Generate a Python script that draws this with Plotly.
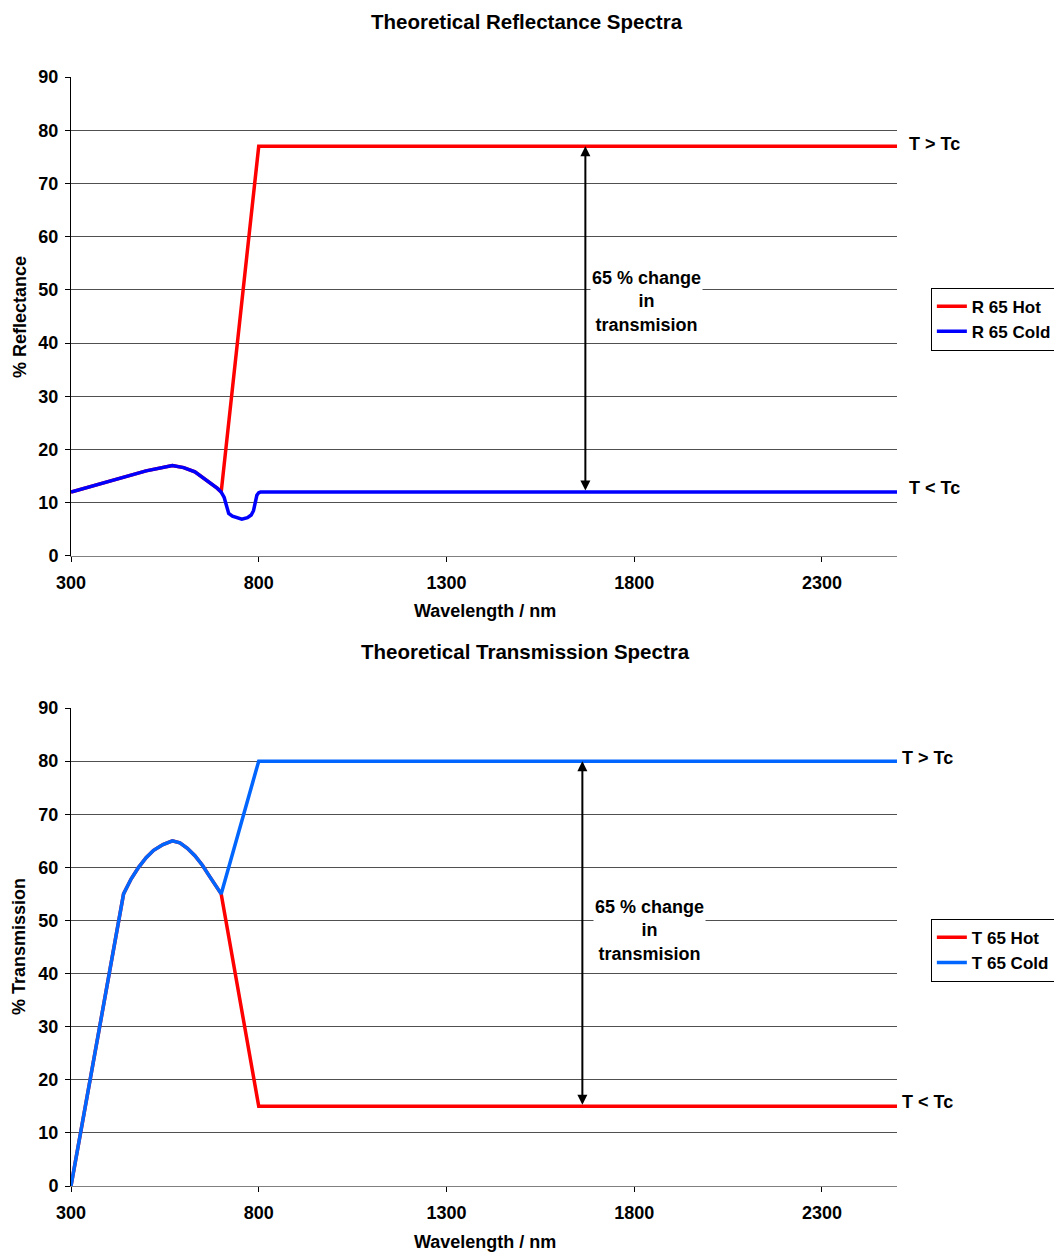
import plotly.graph_objects as go
from plotly.subplots import make_subplots

# Wavelength (nm) / reflectance (%) data
r_hot_x = [300, 350, 400, 450, 500, 570, 600, 630, 650, 670, 690, 700, 800, 2500]
r_hot_y = [12, 13, 14, 15, 16, 17, 16.6, 15.8, 14.8, 13.8, 12.7, 12, 77, 77]
r_cold_x = [300, 350, 400, 450, 500, 570, 600, 630, 650, 670, 690, 700, 708, 714, 720,
            730, 740, 755, 770, 780, 786, 790, 795, 800, 805, 2500]
r_cold_y = [12, 13, 14, 15, 16, 17, 16.6, 15.8, 14.8, 13.8, 12.7, 12, 11, 9.5, 8,
            7.5, 7.2, 6.9, 7.2, 7.7, 8.5, 10, 11.4, 11.9, 12, 12]

# Wavelength (nm) / transmission (%) data
t_hot_x = [300, 440, 460, 480, 500, 520, 545, 570, 590, 610, 630, 650, 670, 685, 700, 800, 2500]
t_hot_y = [0, 55, 57.8, 60, 61.8, 63.2, 64.3, 65, 64.6, 63.6, 62.2, 60.4, 58.2, 56.7, 55, 15, 15]
t_cold_x = [300, 440, 460, 480, 500, 520, 545, 570, 590, 610, 630, 650, 670, 685, 700, 800, 2500]
t_cold_y = [0, 55, 57.8, 60, 61.8, 63.2, 64.3, 65, 64.6, 63.6, 62.2, 60.4, 58.2, 56.7, 55, 80, 80]

x_ticks = [300, 800, 1300, 1800, 2300]
y_ticks = [0, 10, 20, 30, 40, 50, 60, 70, 80, 90]

FONT = "Arial, Liberation Sans, sans-serif"
RED = "#FF0000"
BLUE = "#0000FF"
LIGHT_BLUE = "#0066FF"
TXT = 18

fig = make_subplots(rows=2, cols=1)

fig.add_trace(go.Scatter(x=r_hot_x, y=r_hot_y, mode="lines", name="R 65 Hot",
                         line=dict(color=RED, width=3.5), legend="legend"), row=1, col=1)
fig.add_trace(go.Scatter(x=r_cold_x, y=r_cold_y, mode="lines", name="R 65 Cold",
                         line=dict(color=BLUE, width=3.5), legend="legend"), row=1, col=1)
fig.add_trace(go.Scatter(x=t_hot_x, y=t_hot_y, mode="lines", name="T 65 Hot",
                         line=dict(color=RED, width=3.5), legend="legend2"), row=2, col=1)
fig.add_trace(go.Scatter(x=t_cold_x, y=t_cold_y, mode="lines", name="T 65 Cold",
                         line=dict(color=LIGHT_BLUE, width=3.5), legend="legend2"), row=2, col=1)

axis_common = dict(
    range=[300, 2500], tickvals=x_ticks, ticks="outside", ticklen=5,
    tickcolor="#000", showline=True, linecolor="#808080", linewidth=1,
    showgrid=False, zeroline=False, automargin=False, ticklabelstandoff=5,
    tickfont=dict(family=FONT, size=TXT, color="#000", weight="bold"),
)
yaxis_common = dict(
    range=[0, 90], tickvals=y_ticks, ticks="outside", ticklen=5,
    tickcolor="#000", showline=True, linecolor="#000", linewidth=1,
    showgrid=True, gridcolor="#505050", gridwidth=1, zeroline=False, automargin=False,
    ticklabelstandoff=3,
    tickfont=dict(family=FONT, size=TXT, color="#000", weight="bold"),
)

legend_font = dict(family=FONT, size=17, color="#000", weight="bold")

fig.update_layout(
    width=1054, height=1253,
    margin=dict(l=71, r=157, t=77, b=67, autoexpand=False),
    paper_bgcolor="white", plot_bgcolor="white",
    font=dict(family=FONT, color="#000", weight="bold"),
    xaxis=dict(domain=[0, 1], anchor="y", **axis_common),
    yaxis=dict(domain=[0.5681, 1], anchor="x", **yaxis_common),
    xaxis2=dict(domain=[0, 1], anchor="y2", **axis_common),
    yaxis2=dict(domain=[0, 0.4310], anchor="x2", **yaxis_common),
    legend=dict(x=1.041, y=0.81, xanchor="left", yanchor="top",
                bordercolor="#000", borderwidth=1, bgcolor="white",
                font=legend_font, itemwidth=30, tracegroupgap=0),
    legend2=dict(x=1.041, y=0.241, xanchor="left", yanchor="top",
                 bordercolor="#000", borderwidth=1, bgcolor="white",
                 font=legend_font, itemwidth=30, tracegroupgap=0),
    showlegend=True,
)


def label(text, x, y, xref="paper", yref="paper", size=TXT, **kw):
    d = dict(text=text, x=x, y=y, xref=xref, yref=yref, showarrow=False,
             xanchor=kw.pop("xanchor", "center"), yanchor=kw.pop("yanchor", "middle"),
             font=dict(size=size))
    d.update(kw)
    return d


ann = []
# Titles
ann.append(label("Theoretical Reflectance Spectra", 0.552, 1.0496, size=20.5))
ann.append(label("Theoretical Transmission Spectra", 0.55, 0.4824, size=20.5))
# Axis titles
ann.append(label("Wavelength / nm", 0.501, 0.5185))
ann.append(label("Wavelength / nm", 0.501, -0.0505))
ann.append(label("% Reflectance", -0.0617, 0.7836, textangle=-90))
ann.append(label("% Transmission", -0.063, 0.2164, textangle=-90))

# Double-headed arrows marking the change between states
ann.append(dict(x=1670, y=77, ax=1670, ay=12, xref="x", yref="y", axref="x", ayref="y",
                text="", showarrow=True, arrowhead=2, startarrowhead=2,
                arrowside="end+start", arrowwidth=2, arrowsize=1, arrowcolor="#000"))
ann.append(dict(x=1662, y=80, ax=1662, ay=15, xref="x2", yref="y2", axref="x2", ayref="y2",
                text="", showarrow=True, arrowhead=2, startarrowhead=2,
                arrowside="end+start", arrowwidth=2, arrowsize=1, arrowcolor="#000"))

change_text = "65 % change<br>in<br>transmision"
ann.append(label(change_text, 1833, 47.9, xref="x", yref="y", bgcolor="white"))
ann.append(label(change_text, 1840, 48.2, xref="x2", yref="y2", bgcolor="white"))

# State labels on the right edge
ann.append(label("T > Tc", 1.012, 77.5, yref="y", xanchor="left"))
ann.append(label("T < Tc", 1.012, 12.7, yref="y", xanchor="left"))
ann.append(label("T > Tc", 1.0035, 80.6, yref="y2", xanchor="left"))
ann.append(label("T < Tc", 1.0035, 15.8, yref="y2", xanchor="left"))

fig.update_layout(annotations=ann)

fig.write_html("out.html")
